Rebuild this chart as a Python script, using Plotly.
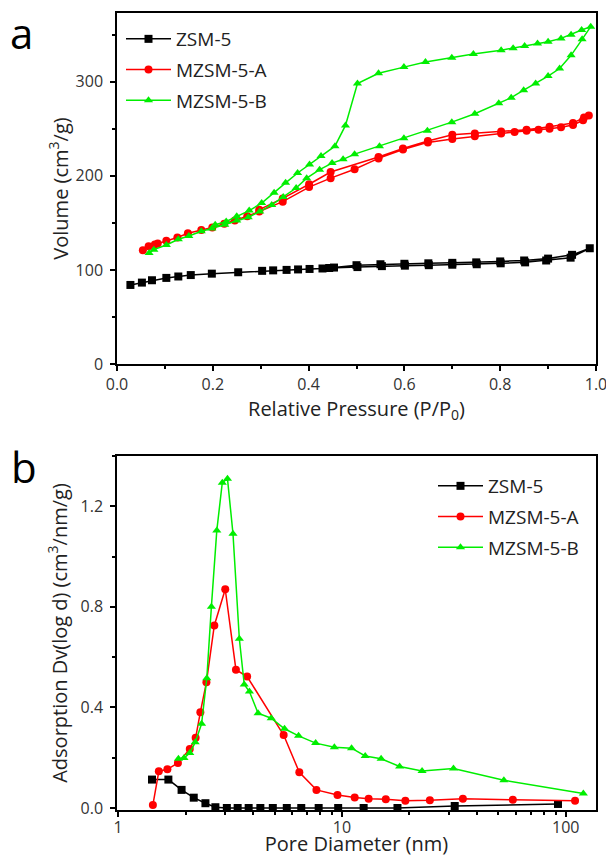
import plotly.graph_objects as go

# ---- (a) N2 isotherms: adsorption branch then desorption branch ----
zsm_p = [0.028, 0.052, 0.073, 0.103, 0.128, 0.154, 0.198, 0.253, 0.303, 0.326, 0.354, 0.378,
         0.402, 0.429, 0.443, 0.502, 0.553, 0.601, 0.651, 0.700, 0.751, 0.801, 0.852, 0.896,
         0.947, 0.987,
         0.95, 0.90, 0.85, 0.80, 0.75, 0.70, 0.65, 0.60, 0.55, 0.50, 0.453]
zsm_v = [84, 86.5, 89, 91.5, 93, 94.5, 96, 97.5, 99, 99.5, 100, 100.5,
         101, 101.5, 102, 103, 104, 104.5, 105, 105.5, 106, 107, 108, 110,
         113, 123,
         116, 112, 110, 109, 108, 107.5, 107, 106.5, 106, 105, 102.5]

mza_p = [0.054, 0.066, 0.079, 0.085, 0.103, 0.126, 0.148, 0.176, 0.199, 0.224, 0.246, 0.272,
         0.297, 0.346, 0.401, 0.446, 0.496, 0.546, 0.597, 0.649, 0.700, 0.747, 0.802, 0.830,
         0.855, 0.880, 0.903, 0.927, 0.952, 0.973, 0.985,
         0.975, 0.952, 0.903, 0.855, 0.802, 0.747, 0.700, 0.649, 0.597, 0.546, 0.446, 0.401,
         0.346, 0.297]
mza_v = [121, 125, 127, 128, 131, 134.5, 139, 142.5, 145, 149, 152.5, 157,
         162, 172.5, 188, 197.5, 207, 218.5, 228, 235.5, 239, 242, 245, 246.5,
         248, 249, 250, 251.5, 254, 259, 264,
         262, 256, 252, 249, 247, 245, 243.5, 237, 229, 220, 204, 191,
         176, 164]

mzb_p = [0.067, 0.077, 0.103, 0.128, 0.150, 0.176, 0.198, 0.225, 0.250, 0.274, 0.298, 0.323,
         0.347, 0.374, 0.396, 0.423, 0.449, 0.472, 0.496, 0.548, 0.599, 0.648, 0.699, 0.747,
         0.797, 0.823, 0.849, 0.874, 0.900, 0.924, 0.948, 0.971, 0.989,
         0.970, 0.948, 0.927, 0.900, 0.878, 0.851, 0.827, 0.802, 0.744, 0.699, 0.644, 0.599,
         0.546, 0.502, 0.477, 0.455, 0.426, 0.402, 0.377, 0.352, 0.328, 0.302, 0.276, 0.250,
         0.228, 0.205]
mzb_v = [118, 121.5, 126.5, 132.5, 136, 141, 144, 148, 152.5, 156, 162, 169,
         177.5, 187, 197.5, 206.5, 213.5, 217.5, 223, 231.5, 240, 248, 257, 266,
         277, 283, 291, 298, 306, 314, 328, 345, 358.5,
         355, 350, 346, 342.5, 340.5, 338, 335.5, 333.5, 329.5, 325.5, 321, 315.5,
         309, 298, 253.5, 231.5, 221, 212, 203, 192.5, 182, 171, 163, 157,
         151.5, 148]

# ---- (b) BJH pore size distributions ----
zsm_d = [1.417, 1.677, 1.921, 2.177, 2.455, 2.72, 3.06, 3.42, 3.83, 4.32, 4.91, 5.67,
         6.58, 7.87, 9.62, 12.5, 17.7, 31.9, 92.3]
zsm_dv = [0.113, 0.113, 0.072, 0.041, 0.019, 0.003, 0.0, 0.0, 0.0, 0.0, 0.0, 0.0,
          0.0, 0.0, 0.0, 0.0, 0.0, 0.008, 0.016]

mza_d = [1.43, 1.52, 1.66, 1.85, 2.09, 2.22, 2.33, 2.48, 2.69, 3.01, 3.36, 3.77,
         5.49, 6.45, 7.69, 9.55, 11.4, 13.16, 15.7, 19.2, 24.7, 34.7, 58, 110]
mza_dv = [0.012, 0.146, 0.154, 0.179, 0.235, 0.279, 0.381, 0.50, 0.726, 0.87, 0.55, 0.523,
          0.29, 0.142, 0.072, 0.052, 0.042, 0.037, 0.035, 0.029, 0.031, 0.037, 0.033, 0.029]

mzb_d = [1.86, 1.97, 2.09, 2.21, 2.36, 2.49, 2.61, 2.76, 2.92, 3.08, 3.26, 3.48,
         3.66, 3.86, 4.22, 4.83, 5.54, 6.40, 7.63, 9.25, 11.04, 12.7, 14.96, 18.1,
         22.8, 31.5, 52.9, 119.8]
mzb_dv = [0.196, 0.199, 0.219, 0.261, 0.335, 0.516, 0.80, 1.104, 1.294, 1.31, 1.091, 0.673,
          0.491, 0.463, 0.377, 0.357, 0.315, 0.287, 0.258, 0.242, 0.238, 0.207, 0.196, 0.165,
          0.147, 0.157, 0.110, 0.058]

names = ["ZSM-5", "MZSM-5-A", "MZSM-5-B"]
colors = ["#000000", "#ff0000", "#00ee00"]
symbols = ["square", "circle", "triangle-up"]

W, H = 606, 857
ML, MR, MT, MB = 117, 10, 13, 47
PW, PH = W - ML - MR, H - MT - MB


def px_x(x):
    return (x - ML) / PW


def px_y(y):
    return (H - MB - y) / PH


fig = go.Figure()

iso = [(zsm_p, zsm_v), (mza_p, mza_v), (mzb_p, mzb_v)]
psd = [(zsm_d, zsm_dv), (mza_d, mza_dv), (mzb_d, mzb_dv)]

for i, (x, y) in enumerate(iso):
    fig.add_trace(go.Scatter(x=x, y=y, name=names[i], mode="lines+markers",
                             xaxis="x", yaxis="y",
                             line=dict(color=colors[i], width=1.5),
                             marker=dict(symbol=symbols[i], size=8, color=colors[i]),
                             legend="legend", legendgroup="a" + str(i)))
for i, (x, y) in enumerate(psd):
    fig.add_trace(go.Scatter(x=x, y=y, name=names[i], mode="lines+markers",
                             xaxis="x2", yaxis="y2",
                             line=dict(color=colors[i], width=1.5),
                             marker=dict(symbol=symbols[i], size=8, color=colors[i]),
                             legend="legend2", legendgroup="b" + str(i)))

axis_style = dict(showline=True, linecolor="black", linewidth=1.5, mirror=True,
                  ticks="outside", ticklen=5, tickwidth=1.5, tickcolor="black",
                  showgrid=False, zeroline=False, automargin=False,
                  ticklabeloverflow="allow",
                  tickfont=dict(size=16, color="#333333"),
                  title_font=dict(size=20, color="#222222"))

top_dom = [px_y(364), 1.0]
bot_dom = [0.0, px_y(456)]

fig.update_layout(
    xaxis=dict(axis_style, anchor="y", domain=[0, 1], range=[0, 1.0],
               tickvals=[0, 0.2, 0.4, 0.6, 0.8, 1.0], tickformat=".1f",
               minor=dict(dtick=0.1, ticks="outside", ticklen=3, tickcolor="black"),
               title=dict(text="Relative Pressure (P/P<sub>0</sub>)", standoff=2)),
    yaxis=dict(axis_style, anchor="x", domain=top_dom, range=[0, 373], dtick=100,
               ticklabelstandoff=4,
               minor=dict(dtick=50, ticks="outside", ticklen=3, tickcolor="black"),
               title=dict(text="Volume (cm<sup>3</sup>/g)", standoff=2)),
    xaxis2=dict(axis_style, anchor="y2", domain=[0, 1], type="log",
                range=[-0.005, 2.135], tickvals=[1, 10, 100], ticklabelstandoff=-3,
                minor=dict(tickvals=[2, 3, 4, 5, 6, 7, 8, 9, 20, 30, 40, 50, 60, 70, 80, 90],
                           ticks="outside", ticklen=3, tickcolor="black"),
                title=dict(text="Pore Diameter (nm)", standoff=6)),
    yaxis2=dict(axis_style, anchor="x2", domain=bot_dom, range=[-0.008, 1.40],
                tickvals=[0, 0.4, 0.8, 1.2], tickformat=".1f", ticklabelstandoff=4,
                minor=dict(dtick=0.2, ticks="outside", ticklen=3, tickcolor="black"),
                title=dict(text="Adsorption Dv(log d) (cm<sup>3</sup>/nm/g)", standoff=8)),
    width=W, height=H,
    margin=dict(l=ML, r=MR, t=MT, b=MB),
    plot_bgcolor="white", paper_bgcolor="white",
    font=dict(family="Open Sans, DejaVu Sans, sans-serif", color="#222222"),
    legend=dict(x=px_x(121), y=px_y(20), xanchor="left", yanchor="top",
                bgcolor="rgba(0,0,0,0)", font=dict(size=19, color="#222222"),
                traceorder="grouped", tracegroupgap=3, itemwidth=45),
    legend2=dict(x=px_x(584), y=px_y(467), xanchor="right", yanchor="top",
                 bgcolor="rgba(0,0,0,0)", font=dict(size=19, color="#222222"),
                 traceorder="grouped", tracegroupgap=3, itemwidth=45),
    annotations=[
        dict(text="a", x=px_x(21), y=px_y(33), xref="paper", yref="paper",
             xanchor="center", yanchor="middle", showarrow=False,
             font=dict(size=42, color="black")),
        dict(text="b", x=px_x(24), y=px_y(466), xref="paper", yref="paper",
             xanchor="center", yanchor="middle", showarrow=False,
             font=dict(size=42, color="black")),
    ],
)

# the page's default body margin would shift the figure by 8px
fig.write_html("out.html", config={"displayModeBar": False},
               post_script="document.body.style.margin='0';")
